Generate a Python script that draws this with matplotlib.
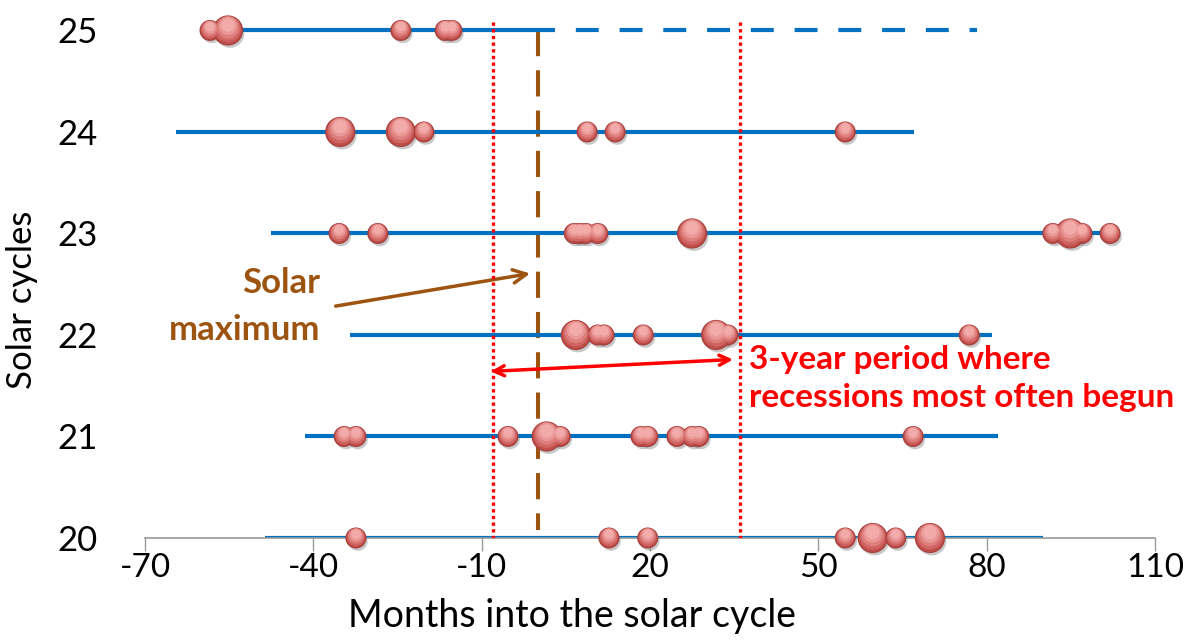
import matplotlib.pyplot as plt
import matplotlib.transforms as mtransforms

plt.rcParams['font.family'] = ['Lato', 'DejaVu Sans']

# solar cycles and their span (months relative to solar maximum)
cycles = [20, 21, 22, 23, 24, 25]
cycle_start = [-48.6, -41.5, -33.5, -47.5, -64.5, -58.5]
cycle_end = [90, 82, 81, 102, 67, 3]
cycle25_projected_end = 78.3

# recession starts (months into cycle); big = more severe
months_20 = [-32.4, 12.7, 19.6, 54.8, 59.7, 63.8, 69.9]
big_20 = [0, 0, 0, 0, 1, 0, 1]
months_21 = [-34.5, -32.4, -5.3, 4.0, 1.6, 18.4, 19.6, 24.8, 27.5, 28.7, 66.9]
big_21 = [0, 0, 0, 0, 1, 0, 0, 0, 0, 0, 0]
months_22 = [6.8, 10.7, 11.8, 18.8, 33.9, 31.8, 76.9]
big_22 = [1, 0, 0, 0, 0, 1, 0]
months_23 = [-35.4, -28.5, 6.5, 7.5, 8.6, 10.7, 27.5, 91.8, 97.0, 94.9, 102.0]
big_23 = [0, 0, 0, 0, 0, 0, 1, 0, 0, 1, 0]
months_24 = [-35.2, -24.4, -20.3, 8.8, 13.8, 54.8]
big_24 = [1, 1, 0, 0, 0, 0]
months_25 = [-58.4, -55.2, -24.4, -16.5, -15.3]
big_25 = [0, 1, 0, 0, 0]

solar_max = 0
period_start, period_end = -8, 36

x_ticks = [-70, -40, -10, 20, 50, 80, 110]

months = [months_20, months_21, months_22, months_23, months_24, months_25]
bigs = [big_20, big_21, big_22, big_23, big_24, big_25]

fig = plt.figure(figsize=(11.93, 6.43), dpi=100)
ax = fig.add_axes([0.1215, 0.1633, 0.8466, 0.8367])

# cycle lines
ax.hlines(cycles, cycle_start, cycle_end, color='#0070C0', lw=3, zorder=2)
ax.plot([cycle_end[-1], cycle25_projected_end], [25, 25], color='#0070C0', lw=3,
        ls=(5.5, (5.5, 5)), zorder=2)

# reference lines
ax.plot([solar_max, solar_max], [25, 20.08], color='#9C5410', lw=2.9,
        dashes=(6.5, 3.5), zorder=1)
for xv in (period_start, period_end):
    ax.plot([xv, xv], [25.08, 20], color='red', lw=2.4, ls=(0, (1, 1)), zorder=4)

# bubbles: shadow, then layered fill to fake the gradient
shadow = mtransforms.offset_copy(ax.transData, fig=fig, x=2, y=-3, units='dots')
layers = [(1.0, 0, '#C24F4C'), (0.8, 1.5, '#D06664'), (0.6, 3, '#DE7F7D'),
          (0.4, 4.5, '#EA9896'), (0.22, 5.5, '#F2ABA9')]
for cyc, m, b in zip(cycles, months, bigs):
    sizes = [430 if flag else 200 for flag in b]
    ys = [cyc] * len(m)
    ax.scatter(m, ys, s=sizes, color='#666666', alpha=0.35,
               edgecolors='none', transform=shadow, zorder=3, clip_on=False)
    for i, (frac, dy, col) in enumerate(layers):
        if i == 0:
            ax.scatter(m, ys, s=sizes, color=col, edgecolors='#A8423F',
                       linewidths=1, zorder=5, clip_on=False)
        else:
            for xi, si in zip(m, sizes):
                k = 1.0 if si > 300 else 0.7
                ax.scatter([xi], [cyc], s=si * frac, color=col, edgecolors='none',
                           transform=mtransforms.offset_copy(
                               ax.transData, fig=fig, x=0, y=dy * k, units='dots'),
                           zorder=5 + i, clip_on=False)

ax.set_xlim(-70, 110)
ax.set_ylim(20, 25.3)
ax.set_xticks(x_ticks)
ax.set_xticklabels([str(t) for t in x_ticks])
ax.set_yticks(cycles)
for s in ('top', 'right', 'left'):
    ax.spines[s].set_visible(False)
ax.spines['bottom'].set_color('#999999')
ax.spines['bottom'].set_linewidth(1.2)
ax.tick_params(axis='x', length=9, width=1, color='#999999', labelsize=24, pad=2)
ax.tick_params(axis='y', length=0, labelsize=25, pad=34)

ax.set_xlabel('Months into the solar cycle', fontsize=27)
ax.xaxis.set_label_coords(0.423, -0.112)
ax.set_ylabel('Solar cycles', fontsize=25)
ax.yaxis.set_label_coords(-0.106, 0.442)

# annotations
ax.text(-38.8, 22.28, 'Solar\nmaximum', color='#9C5410', fontsize=25,
        fontweight='bold', ha='right', va='center', linespacing=1.6)
ax.annotate('', xy=(-0.85, 22.61), xytext=(-36.5, 22.28),
            arrowprops=dict(arrowstyle='->', color='#9C5410', lw=2.5,
                            mutation_scale=24))
ax.annotate('', xy=(-8.9, 21.64), xytext=(35.3, 21.76),
            arrowprops=dict(arrowstyle='<->', color='red', lw=2.5,
                            mutation_scale=18))
ax.text(37.6, 21.57, '3-year period where\nrecessions most often begun',
        color='red', fontsize=24, fontweight='bold', ha='left', va='center',
        linespacing=1.4)

fig.savefig('out.png', dpi=100)
